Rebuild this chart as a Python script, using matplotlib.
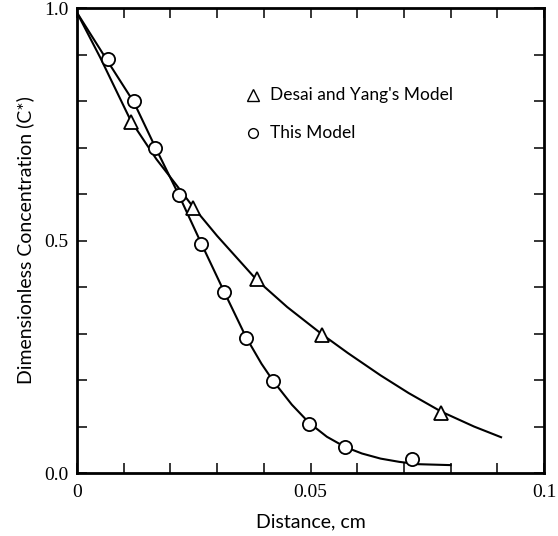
import numpy as np
import matplotlib
matplotlib.use('Agg')
import matplotlib.pyplot as plt
from matplotlib.ticker import MultipleLocator

# marker points
this_x = [0.0066, 0.0122, 0.0167, 0.0218, 0.0266, 0.0315, 0.0362, 0.0420, 0.0497, 0.0574, 0.0717]
this_y = [0.890, 0.800, 0.700, 0.597, 0.492, 0.390, 0.290, 0.198, 0.106, 0.056, 0.030]

desai_x = [0.0115, 0.0248, 0.0385, 0.0525, 0.0780]
desai_y = [0.755, 0.570, 0.417, 0.297, 0.129]

# fitted curves
this_cx = [0.0, 0.0066, 0.0122, 0.0167, 0.0218, 0.0266, 0.0315, 0.0362, 0.0395, 0.0420,
           0.0460, 0.0497, 0.0535, 0.0574, 0.0610, 0.0650, 0.0690, 0.0730, 0.0800]
this_cy = [0.990, 0.885, 0.797, 0.702, 0.598, 0.494, 0.390, 0.292, 0.235, 0.198,
           0.147, 0.108, 0.078, 0.056, 0.042, 0.031, 0.024, 0.019, 0.017]

desai_cx = [0.0, 0.005, 0.0115, 0.017, 0.021, 0.0248, 0.030, 0.0385, 0.045, 0.0525,
            0.058, 0.065, 0.071, 0.078, 0.085, 0.0908]
desai_cy = [0.990, 0.893, 0.758, 0.675, 0.623, 0.573, 0.510, 0.415, 0.357, 0.298,
            0.258, 0.210, 0.172, 0.132, 0.100, 0.077]

plt.rcParams['font.family'] = 'Liberation Serif'

fig = plt.figure(figsize=(5.58, 5.36), dpi=100)
ax = fig.add_axes([0.138, 0.1175, 0.837, 0.8675])

ax.plot(this_cx, this_cy, color='black', lw=1.5)
ax.plot(desai_cx, desai_cy, color='black', lw=1.5)
ax.plot(this_x, this_y, 'o', ms=9.5, mfc='white', mec='black', mew=1.3)
ax.plot(desai_x, desai_y, '^', ms=10, mfc='white', mec='black', mew=1.3)

# legend drawn as plain markers and text
ax.plot([0.0377], [0.812], '^', ms=8, mfc='white', mec='black', mew=1.0)
ax.plot([0.0377], [0.732], 'o', ms=7, mfc='white', mec='black', mew=1.0)
ax.text(0.0413, 0.812, "Desai and Yang's Model", va='center', ha='left',
        fontsize=12.5, family='Lato')
ax.text(0.0413, 0.732, "This Model", va='center', ha='left',
        fontsize=12.5, family='Lato')

ax.set_xlim(0, 0.1)
ax.set_ylim(0, 1.0)
ax.set_xticks([0, 0.05, 0.1])
ax.set_xticklabels(['0', '0.05', '0.1'])
ax.set_yticks([0.0, 0.5, 1.0])
ax.set_yticklabels(['0.0', '0.5', '1.0'])
ax.xaxis.set_minor_locator(MultipleLocator(0.01))
ax.yaxis.set_minor_locator(MultipleLocator(0.1))
ax.tick_params(which='both', direction='in', top=True, right=True,
               length=7, width=1.1, labelsize=14)
ax.tick_params(axis='x', pad=8)
ax.tick_params(axis='y', pad=6)
for s in ax.spines.values():
    s.set_linewidth(2)

ax.set_xlabel('Distance, cm', fontsize=14, family='Lato', labelpad=9)
ax.set_ylabel('Dimensionless Concentration (C*)', fontsize=14, family='Lato', labelpad=7)

fig.savefig('out.png', dpi=100)
